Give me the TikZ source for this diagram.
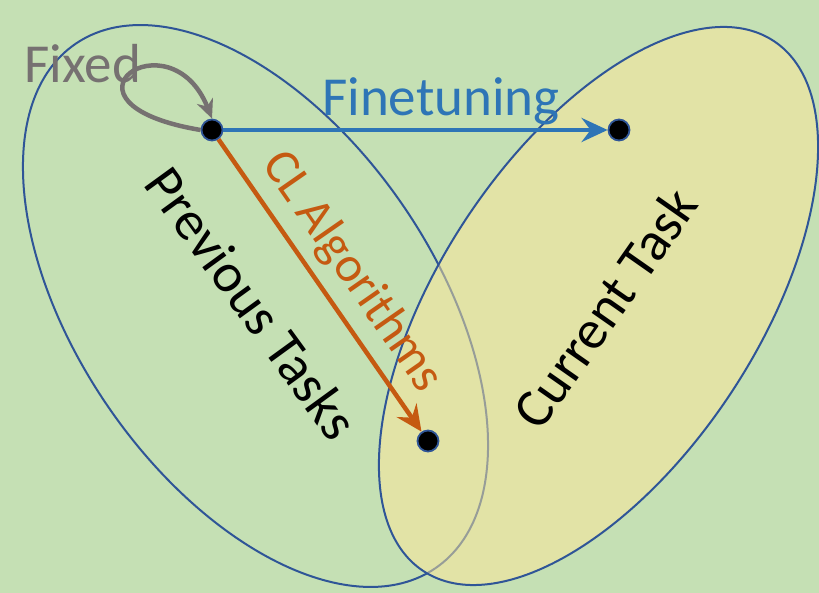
\documentclass[tikz,border=0pt]{standalone}
\usepackage{fontspec}
\setmainfont{Carlito}
\usetikzlibrary{arrows.meta}
\definecolor{ColBg}{RGB}{197,224,180}
\definecolor{ColLine}{RGB}{47,85,151}
\definecolor{ColFine}{RGB}{46,117,182}
\definecolor{ColCL}{RGB}{197,90,17}
\definecolor{ColFix}{RGB}{118,113,113}
\definecolor{ColCur}{RGB}{255,230,153}
\tikzstyle{NodeDot}=[circle,draw=ColLine,fill=black,line width=1.8bp,inner sep=0pt,
minimum size=21bp]
\tikzstyle{EllipseTask}=[draw=ColLine,line width=2bp]
\tikzstyle{EdgeArrow}=[line width=4.5bp,-{Stealth[length=26bp,width=24bp,inset=9bp]}]
\tikzstyle{EdgeLoop}=[line width=4.5bp,-{Stealth[length=19bp,width=17bp,inset=6bp]}]
\tikzstyle{Label}=[font=\fontsize{55bp}{60bp}\selectfont,inner sep=0pt]

\begin{document}
\begin{tikzpicture}[x=1bp,y=1bp]
        \fill[ColBg](0,0)rectangle(819,593);
        \useasboundingbox(0,0)rectangle(819,593);
        % task sets
        \draw[EllipseTask,rotate around={-55.5:(255.5,287)}](255.5,287)ellipse(318 and 178.5);
        \fill[ColCur,fill opacity=.5,rotate around={56.5:(598.5,287)}](598.5,287)ellipse(317.7 and 158.5);
        \draw[EllipseTask,rotate around={56.5:(598.5,287)}](598.5,287)ellipse(317.7 and 158.5);
        \node[Label,rotate=-54](prev)at(252,290){Previous Tasks};
        \node[Label,rotate=55](cur)at(605,285){Current Task};
        \node[Label,text=ColFix](fix)at(83,529){Fixed};
        \node[Label,text=ColFine](fine)at(441,492){Finetuning};
        % models
        \node[NodeDot](a)at(212,463){};
        \node[NodeDot](b)at(619,463){};
        \node[NodeDot](c)at(428,152){};
        \draw[EdgeLoop,ColFix](a.west)..controls(40,490)and(170,580)..(a.north);
        \draw[EdgeArrow,ColFine](a)--(b);
        \draw[EdgeArrow,ColCL](a)--(c)node[Label,sloped,above=10bp,pos=.52,
            font=\fontsize{50bp}{55bp}\selectfont,text=ColCL](cl){CL Algorithms};
    \end{tikzpicture}
\end{document}
